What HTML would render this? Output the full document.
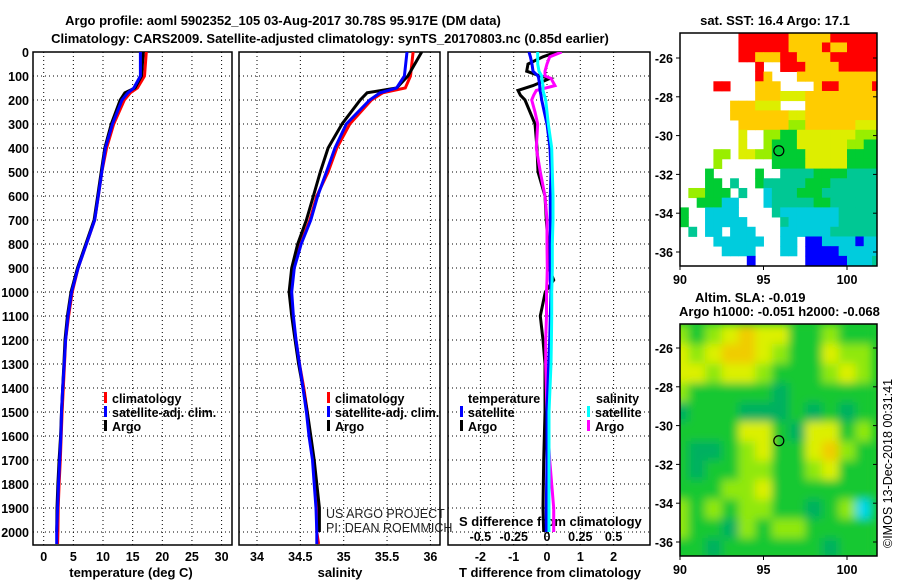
<!DOCTYPE html>
<html><head><meta charset="utf-8"><style>
html,body{margin:0;padding:0;background:#fff;}
svg{display:block;font-family:"Liberation Sans",sans-serif;}
.b{font-weight:bold;font-size:13px;}
.t{font-weight:bold;font-size:12.5px;}
</style></head><body>
<svg id="fig" width="900" height="580" viewBox="0 0 900 580" xmlns="http://www.w3.org/2000/svg">
<defs>
<clipPath id="c1"><rect x="33" y="52" width="199" height="493"/></clipPath>
<clipPath id="c2"><rect x="239" y="52" width="201" height="493"/></clipPath>
<clipPath id="c3"><rect x="448" y="52" width="202" height="493"/></clipPath>
<clipPath id="cm1"><rect x="680" y="33" width="197" height="233"/></clipPath>
<clipPath id="cm2"><rect x="680" y="324" width="197" height="232"/></clipPath>
<filter id="blur" x="-10%" y="-10%" width="120%" height="120%"><feGaussianBlur stdDeviation="4.5"/></filter>
</defs>
<text x="283" y="25" text-anchor="middle" class="b">Argo profile: aoml 5902352_105 03-Aug-2017 30.78S 95.917E (DM data)</text>
<text x="330" y="43" text-anchor="middle" class="b">Climatology: CARS2009. Satellite-adjusted climatology: synTS_20170803.nc (0.85d earlier)</text>
<text x="775" y="25" text-anchor="middle" class="b">sat. SST: 16.4 Argo: 17.1</text>
<text x="695" y="302" class="b">Altim. SLA: -0.019</text>
<text x="679" y="316" class="b">Argo h1000: -0.051 h2000: -0.068</text>
<text transform="translate(892,548) rotate(-90)" font-size="12.5">©IMOS 13-Dec-2018 00:31:41</text>
<g id="g1"></g>
<g id="g2"></g>
<g id="g3"></g>
<g id="m1"></g>
<g id="m2"></g>
</svg>
<script>
// ---- profile data ----
const depthT = [0,100,150,170,200,300,400,500,600,700,800,900,1000,1100,1200,1300,1400,1500,1600,1700,1800,1900,2000];
const tempArgo = [16.8,16.5,15.4,13.7,12.9,11.4,10.3,9.7,9.1,8.5,7.1,5.7,4.6,4.0,3.6,3.4,3.2,3.0,2.85,2.6,2.4,2.25,2.2];
const depthC = [0,100,150,170,200,300,400,500,600,700,800,900,1000,1100,1200,1300,1400,1500,1600,1700,1800,1900,2000,2050];
const tempClim = [17.3,17.0,15.8,14.6,13.6,11.8,10.6,9.8,9.2,8.6,7.2,5.8,4.8,4.2,3.7,3.5,3.3,3.1,2.95,2.8,2.6,2.45,2.4,2.35];
const tempSat = [16.3,16.3,15.2,14.2,13.2,11.6,10.4,9.8,9.2,8.6,7.2,5.8,4.7,4.1,3.7,3.45,3.2,3.0,2.9,2.7,2.5,2.35,2.2,2.2];
const salArgo = [35.90,35.74,35.61,35.27,35.19,34.98,34.82,34.73,34.65,34.57,34.47,34.40,34.37,34.40,34.44,34.48,34.53,34.58,34.62,34.66,34.69,34.72,34.72];
const salClim = [35.80,35.77,35.71,35.45,35.32,35.07,34.92,34.82,34.69,34.61,34.50,34.42,34.39,34.41,34.45,34.49,34.54,34.58,34.61,34.65,34.67,34.69,34.69,34.71];
const salSat = [35.73,35.70,35.61,35.42,35.30,35.03,34.90,34.80,34.70,34.62,34.51,34.43,34.40,34.42,34.45,34.49,34.53,34.57,34.60,34.64,34.66,34.68,34.69,34.69];
const depthD = [0,20,50,80,100,110,140,160,180,200,250,300,400,500,600,700,800,900,950,1000,1100,1200,1300,1500,1700,1900,2000];
const tDiffArgo = [0.29,-0.12,-0.57,-0.61,-0.2,0.09,-0.42,-0.87,-0.8,-0.66,-0.51,-0.36,-0.3,-0.27,-0.06,-0.02,0.03,0.06,0.2,-0.05,-0.2,-0.12,-0.06,-0.06,-0.1,-0.12,-0.1];
const tDiffSat = [-0.54,-0.5,-0.45,-0.42,-0.27,-0.25,-0.22,-0.21,-0.18,-0.16,-0.08,0.0,0.09,0.12,0.1,0.1,0.1,0.1,0.1,0.12,0.1,0.08,0.05,0.0,0.0,-0.02,-0.02];
const sDiffArgo = [0.11,0.02,0.0,-0.015,-0.015,0.03,0.06,-0.08,-0.1,-0.115,-0.09,-0.07,-0.08,-0.05,-0.015,0.0,0.0,0.002,0.0,-0.004,-0.004,-0.01,-0.01,0.0,0.02,0.05,0.05];
const sDiffSat = [-0.07,-0.07,-0.07,-0.06,-0.04,-0.04,-0.03,-0.03,-0.02,-0.01,0.0,0.01,0.035,0.04,0.045,0.045,0.04,0.04,0.038,0.035,0.035,0.033,0.03,0.015,0.015,0.015,0.015];
// ---- axis ticks ----
const depthTicks = [0,100,200,300,400,500,600,700,800,900,1000,1100,1200,1300,1400,1500,1600,1700,1800,1900,2000];
const tempTicks = [0,5,10,15,20,25,30];
const salTicks = [34,34.5,35,35.5,36];
const salTickLabels = ["34","34.5","35","35.5","36"];
const tdTicks = [-2,-1,0,1,2];
const sdTicks = [-0.5,-0.25,0,0.25,0.5];
const sdTickLabels = ["-0.5","-0.25","0","0.25","0.5"];
// ---- map data ----
const sstRows = [
"WWWWWWWRRRRRROOOOORRRRRR",
"WWWWWWWRRRRRROOOOROORRRR",
"WWWWWWWRROOORROOOORRRRRR",
"WWWWWWWWWRWWRRROOOORRRRR",
"WWWWWWWWWROWWWOOOOOOOOOO",
"WWWWRRWWWOOOWWWWORROOOOR",
"WWWWWWWWWOOOYYYOOOOOOOOO",
"WWWWWWOOOYYYWWWOOOOOOOOO",
"WWWWWWOOOOOOOYYOOOOOOOOO",
"WWWWWWWOOOOOOLLOOOOOOYYY",
"WWWWWWWYWWLLGGYYYYYYYLLL",
"WWWWWWWYWWLGGGYYYYYYLLGG",
"WWWWLLWYYLLGGGGYYYYYGGGG",
"WWWWLWWWWWWGGGGYYYYYGGGG",
"WWWGWWWWWGWWTTTTGGGGTTTT",
"WWWGGWTWWGTTTTTGGGTTTTTT",
"WLLGGGWTWWCTTTGGGTTTTTTT",
"WWGGGCCWWWCTTTTTGGTTTTTT",
"GWWCCCCWWWWTCCCCCCCTTTTT",
"GWWCCCCCWWWWTCCCCCCTTTTT",
"WTWCCWCCCWWWCCCCCCTTTTTT",
"WWWWCCCCCCWWCCWBBCCCCBCC",
"WWWWWCCCCWWWCCWBBBBCCCCC",
"WWWWWWWWBWWWWWWBBBBBCCCT"];
const sstColors = {R:"#ff0000",O:"#ffcc00",Y:"#ddee00",L:"#99ee00",G:"#00cc33",T:"#00c894",C:"#00ccdd",B:"#0000ff"};
const slaRows = [
[2,1,2,3,4,3,3,1,1,2,1,1],
[3,2,3,4,4,3,2,1,1,3,2,2],
[3,3,2,3,3,2,1,1,1,2,3,2],
[2,1,1,1,1,1,0,1,1,1,1,1],
[0,1,1,1,0,0,0,1,0,1,0,1],
[1,1,1,1,3,3,1,0,3,3,1,2],
[1,0,0,1,2,3,1,1,3,4,2,1],
[1,0,1,1,2,2,1,1,2,3,1,1],
[1,1,1,2,2,3,1,1,1,1,1,1],
[2,1,2,1,2,2,1,1,0,1,2,5],
[2,1,1,0,2,1,2,2,1,1,1,1],
[1,1,0,1,1,1,1,1,1,0,1,1]];
const slaColors = ["#00b060","#18c830","#90e810","#dcf000","#f0cc00","#00d8e8"];
const mapLonTicks = [90,95,100];
const mapLatTicks = [-26,-28,-30,-32,-34,-36];
const argoLon = 95.917, argoLat = -30.78;

const NS="http://www.w3.org/2000/svg";
function el(tag, attrs, parent){const e=document.createElementNS(NS,tag);for(const k in attrs)e.setAttribute(k,attrs[k]);parent.appendChild(e);return e;}
const yD = d => 52 + d*0.24;
const xT = v => 43.7 + v*5.93;
const xS = v => 257 + (v-34)*86.7;
const xTD = v => 547 + v*33.3;
const xSD = v => 547 + v*133.2;

function frame(g, x0, x1, xticks, xfn, labels, name){
  depthTicks.forEach(d=>{
    const l=el('line',{x1:x0,x2:x1,y1:yD(d),y2:yD(d),stroke:'#000','stroke-width':1,'stroke-dasharray':'1,3'},g);
    
    
  });
  xticks.forEach(v=>{
    const l=el('line',{x1:xfn(v),x2:xfn(v),y1:52,y2:545,stroke:'#000','stroke-width':1,'stroke-dasharray':'1,3'},g);
    
    
  });
  const r=el('rect',{x:x0,y:52,width:x1-x0,height:493,fill:'none',stroke:'#000','stroke-width':1.5},g);
  
  
  if(labels){xticks.forEach((v,i)=>{
    const t=el('text',{x:xfn(v),y:561,'text-anchor':'middle',class:'t'},g);t.textContent=labels[i];
    
    
  });}
}
function line(g, depths, vals, xfn, color, clip, name){
  const pts=vals.map((v,i)=>xfn(v).toFixed(1)+','+yD(depths[i]).toFixed(1)).join(' ');
  const p=el('polyline',{points:pts,fill:'none',stroke:color,'stroke-width':3,'clip-path':'url(#'+clip+')'},g);
  
  
}
function legend(g, x, y, color, label){
  el('rect',{x:x,y:y-6,width:3,height:11,fill:color},g);
  const t=el('text',{x:x+8,y:y+5,class:'t'},g);t.textContent=label;
  
  
}
// panel 1
const g1=document.getElementById('g1');
frame(g1,33,232,tempTicks,xT,tempTicks.map(String),'temperature-panel');
depthTicks.forEach(d=>{
  const t=el('text',{x:29,y:yD(d)+5,'text-anchor':'end',class:'t'},g1);t.textContent=d;
  
  
});
el('text',{x:131,y:577,'text-anchor':'middle',class:'b'},g1).textContent='temperature (deg C)';
line(g1,depthC,tempClim,xT,'#ff0000','c1','temp-climatology-line');
line(g1,depthT,tempArgo,xT,'#000','c1','temp-argo-line');
line(g1,depthC,tempSat,xT,'#0000ff','c1','temp-satellite-line');
legend(g1,104,398,'#ff0000','climatology');
legend(g1,104,412,'#0000ff','satellite-adj. clim.');
legend(g1,104,426,'#000','Argo');
// panel 2
const g2=document.getElementById('g2');
frame(g2,239,440,salTicks,xS,salTickLabels,'salinity-panel');
el('text',{x:340,y:577,'text-anchor':'middle',class:'b'},g2).textContent='salinity';
line(g2,depthC,salClim,xS,'#ff0000','c2','sal-climatology-line');
line(g2,depthT,salArgo,xS,'#000','c2','sal-argo-line');
line(g2,depthC,salSat,xS,'#0000ff','c2','sal-satellite-line');
legend(g2,327,398,'#ff0000','climatology');
legend(g2,327,412,'#0000ff','satellite-adj. clim.');
legend(g2,327,426,'#000','Argo');
el('text',{x:326,y:518,'font-size':12.5,fill:'#222'},g2).textContent='US ARGO PROJECT';
el('text',{x:326,y:532,'font-size':12.5,fill:'#222'},g2).textContent='PI: DEAN ROEMMICH';
// panel 3
const g3=document.getElementById('g3');
frame(g3,448,650,tdTicks,xTD,tdTicks.map(String),'difference-panel');
sdTicks.forEach((v,i)=>{
  const t=el('text',{x:xSD(v),y:541,'text-anchor':'middle',class:'t'},g3);t.textContent=sdTickLabels[i];
  
  
});
el('text',{x:459,y:526,class:'b'},g3).textContent='S difference from climatology';
el('text',{x:459,y:577,class:'b'},g3).textContent='T difference from climatology';
line(g3,depthD,tDiffArgo,xTD,'#000','c3','t-diff-argo-line');
line(g3,depthD,sDiffArgo,xSD,'#ff00ff','c3','s-diff-argo-line');
line(g3,depthD,tDiffSat,xTD,'#0000ff','c3','t-diff-satellite-line');
line(g3,depthD,sDiffSat,xSD,'#00ffff','c3','s-diff-satellite-line');
el('text',{x:468,y:403,class:'t'},g3).textContent='temperature';
legend(g3,460,412,'#0000ff','satellite');
legend(g3,460,426,'#000','Argo');
el('text',{x:596,y:403,class:'t'},g3).textContent='salinity';
legend(g3,587,412,'#00ffff','satellite');
legend(g3,587,426,'#ff00ff','Argo');
// maps
const lonX = lon => 680 + (lon-90)*16.7;
function mapAxes(g, top, bottom, latY, name){
  const r=el('rect',{x:680,y:top,width:197,height:bottom-top,fill:'none',stroke:'#000','stroke-width':1.5},g);
  
  
  mapLatTicks.forEach(v=>{
    el('line',{x1:676,x2:680,y1:latY(v),y2:latY(v),stroke:'#000'},g);
    el('line',{x1:873,x2:877,y1:latY(v),y2:latY(v),stroke:'#000'},g);
    const t=el('text',{x:673,y:latY(v)+5,'text-anchor':'end',class:'t'},g);t.textContent=v;
    
    
  });
  mapLonTicks.forEach(v=>{
    el('line',{x1:lonX(v),x2:lonX(v),y1:bottom,y2:bottom+4,stroke:'#000'},g);
    const t=el('text',{x:lonX(v),y:bottom+18,'text-anchor':'middle',class:'t'},g);t.textContent=v;
    
    
  });
}
const m1=document.getElementById('m1');
const latY1 = lat => 58 + (-26-lat)*19.4;
const cg1=el('g',{'clip-path':'url(#cm1)'},m1);
sstRows.forEach((row,ri)=>{[...row].forEach((c,ci)=>{
  if(c==='W')return;
  const lon=90+ci*0.5, lat=-24.7-ri*0.5;
  const r=el('rect',{x:lonX(lon),y:latY1(lat),width:8.8,height:10.1,fill:sstColors[c]},cg1);
  
  
});});
mapAxes(m1,33,266,latY1,'sst-map');
const c1m=el('circle',{cx:lonX(argoLon),cy:latY1(argoLat),r:5,fill:'#00cc33',stroke:'#000','stroke-width':1.2},m1);


const m2=document.getElementById('m2');
const latY2 = lat => 348 + (-26-lat)*19.4;
const cg2=el('g',{'clip-path':'url(#cm2)'},m2);
el('rect',{x:680,y:324,width:197,height:232,fill:slaColors[1]},cg2);
const bg=el('g',{filter:'url(#blur)'},cg2);
slaRows.forEach((row,ri)=>{row.forEach((v,ci)=>{
  const lon=89.5+ci*1.0, lat=-24.8-ri*1.0;
  const r=el('rect',{x:lonX(lon),y:latY2(lat),width:17.2,height:19.9,fill:slaColors[v]},bg);
  
  
});});
mapAxes(m2,324,556,latY2,'sla-map');
const c2m=el('circle',{cx:lonX(argoLon),cy:latY2(argoLat),r:5,fill:'none',stroke:'#000','stroke-width':1.2},m2);


</script>
</body></html>
